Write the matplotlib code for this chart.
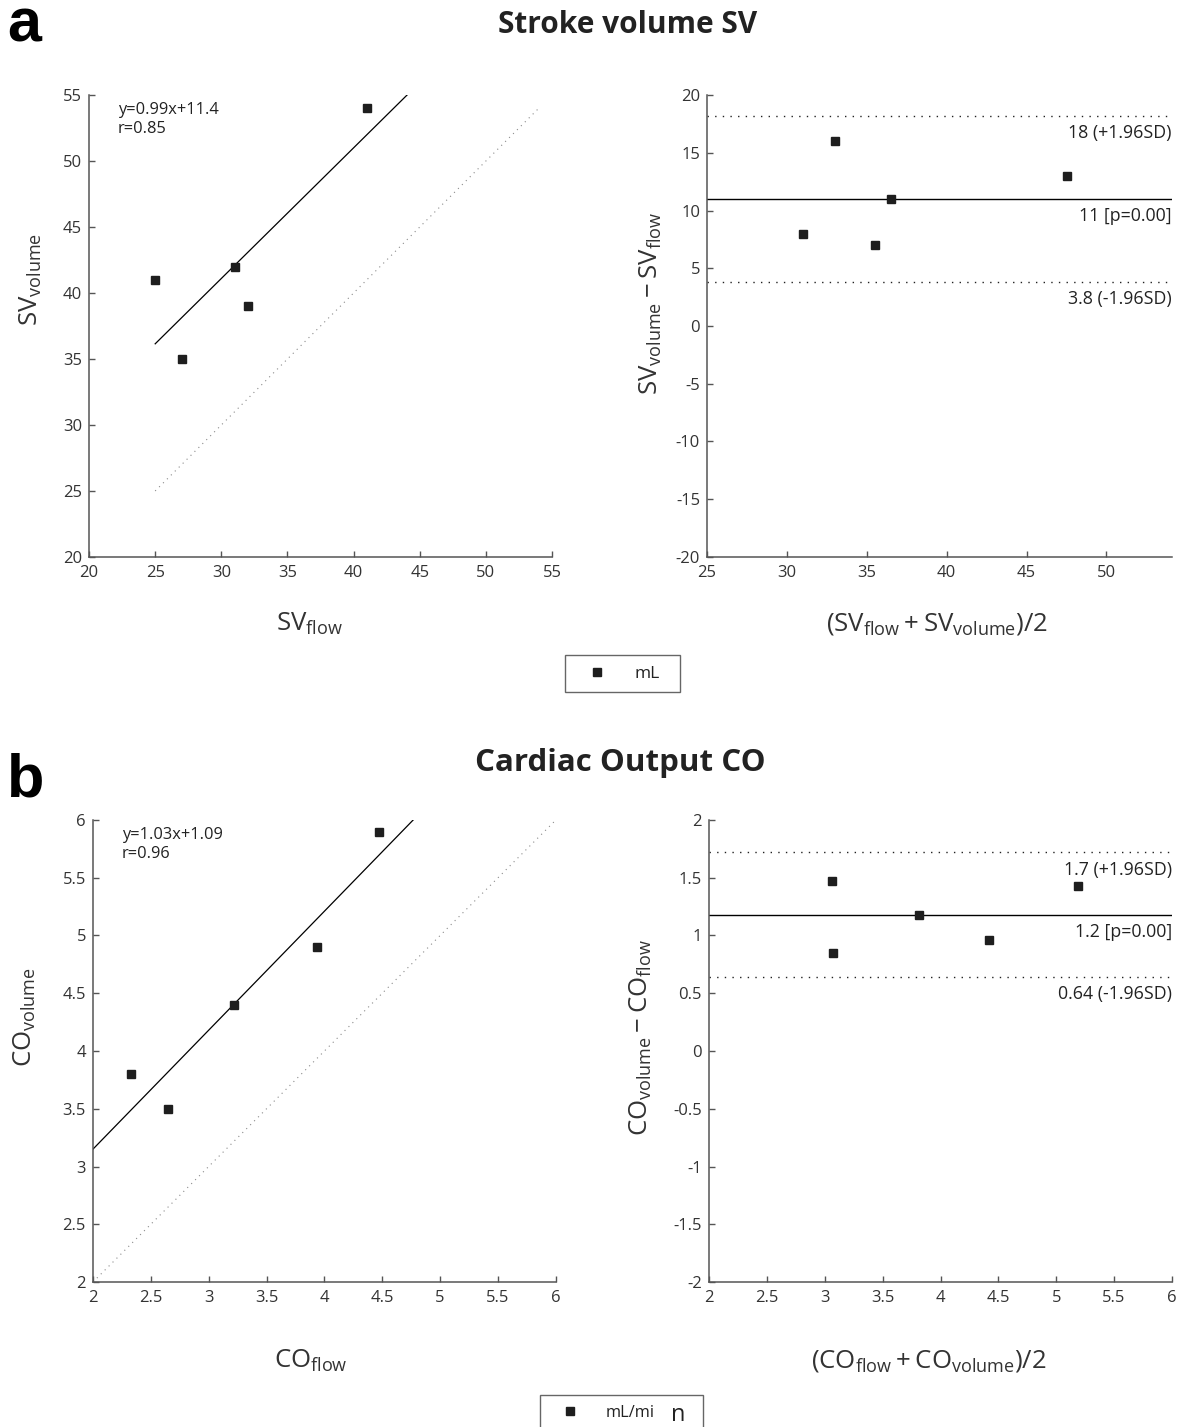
import matplotlib
matplotlib.use("Agg")
import matplotlib.pyplot as plt
from matplotlib.lines import Line2D
from matplotlib.ticker import FuncFormatter, MultipleLocator

plt.rcParams["font.family"] = ["Open Sans", "DejaVu Sans"]
plt.rcParams["mathtext.fontset"] = "custom"
plt.rcParams["mathtext.rm"] = "Open Sans"
plt.rcParams["mathtext.it"] = "Open Sans:italic"
plt.rcParams["mathtext.bf"] = "Open Sans:bold"
plt.rcParams["axes.unicode_minus"] = False

# --- data ---
# a: stroke volume (mL)
sv_flow = [25, 27, 31, 32, 41]
sv_volume = [41, 35, 42, 39, 54]
sv_mean = [33, 31, 36.5, 35.5, 47.5]
sv_diff = [16, 8, 11, 7, 13]
sv_fit = (0.99, 11.4)          # slope, intercept
sv_r = 0.85
sv_bias, sv_upper, sv_lower = 11, 18.2, 3.8
sv_labels = ["18 (+1.96SD)", "11 [p=0.00]", "3.8 (-1.96SD)"]

# b: cardiac output (mL/min)
co_flow = [2.33, 2.65, 3.22, 3.94, 4.47]
co_volume = [3.8, 3.5, 4.4, 4.9, 5.9]
co_mean = [3.065, 3.075, 3.81, 4.42, 5.185]
co_diff = [1.47, 0.85, 1.18, 0.96, 1.43]
co_fit = (1.03, 1.09)
co_r = 0.96
co_bias, co_upper, co_lower = 1.18, 1.72, 0.64
co_labels = ["1.7 (+1.96SD)", "1.2 [p=0.00]", "0.64 (-1.96SD)"]

SPINE = "#555555"
TXT = "#333333"
MK = "#1e1e1e"
TICK_FS = 12


def style_axes(ax):
    for s in ["top", "right"]:
        ax.spines[s].set_visible(False)
    for s in ["left", "bottom"]:
        ax.spines[s].set_color(SPINE)
        ax.spines[s].set_linewidth(1.1)
    ax.tick_params(direction="in", length=4, width=1.0, color=SPINE,
                   labelcolor=TXT, labelsize=TICK_FS)
    ax.tick_params(axis="x", pad=6)
    ax.tick_params(axis="y", pad=5)
    fmt = FuncFormatter(lambda v, p: f"{v:g}")
    ax.xaxis.set_major_formatter(fmt)
    ax.yaxis.set_major_formatter(fmt)


def scatter_panel(ax, x, y, fit, r, lim, step, line_x):
    ax.plot(line_x, line_x, ls=(0, (1, 4)), lw=0.8, color="#8a8a8a")
    xs = [line_x[0], lim[1]]
    ax.plot(xs, [fit[0] * v + fit[1] for v in xs], color="black", lw=0.9)
    ax.plot(x, y, ls="none", marker="s", ms=5.6, color=MK)
    ax.set_xlim(*lim)
    ax.set_ylim(*lim)
    ax.xaxis.set_major_locator(MultipleLocator(step))
    ax.yaxis.set_major_locator(MultipleLocator(step))
    ax.text(0.062, 0.985, f"y={fit[0]:g}x+{fit[1]:g}\nr={r:g}",
            transform=ax.transAxes, ha="left", va="top", fontsize=11.8,
            color="#222222", linespacing=1.25)
    style_axes(ax)


def ba_panel(ax, m, d, bias, up, lo, labels, xlim, ylim, step, ystep):
    for v in [up, lo]:
        ax.axhline(v, ls=(0, (1, 4.5)), lw=1.0, color="#222222")
    ax.axhline(bias, color="black", lw=1.0)
    ax.plot(m, d, ls="none", marker="s", ms=5.6, color=MK)
    for v, lab in zip([up, bias, lo], labels):
        ax.annotate(lab, xy=(1, v), xycoords=("axes fraction", "data"),
                    xytext=(0, -6), textcoords="offset points",
                    ha="right", va="top", fontsize=12.8, color="#222222")
    ax.set_xlim(*xlim)
    ax.set_ylim(*ylim)
    ax.xaxis.set_major_locator(MultipleLocator(step))
    ax.yaxis.set_major_locator(MultipleLocator(ystep))
    style_axes(ax)


fig = plt.figure(figsize=(11.78, 14.27), dpi=100)

ax1 = fig.add_axes([0.0756, 0.6097, 0.393, 0.3237])
ax2 = fig.add_axes([0.6002, 0.6097, 0.3947, 0.3237])
ax3 = fig.add_axes([0.0789, 0.1016, 0.393, 0.3238])
ax4 = fig.add_axes([0.6019, 0.1016, 0.393, 0.3238])

scatter_panel(ax1, sv_flow, sv_volume, sv_fit, sv_r, (20, 55), 5, [25, 54])
ba_panel(ax2, sv_mean, sv_diff, sv_bias, sv_upper, sv_lower, sv_labels,
         (25, 54.1), (-20, 20), 5, 5)
scatter_panel(ax3, co_flow, co_volume, co_fit, co_r, (2, 6), 0.5, [2, 6])
ba_panel(ax4, co_mean, co_diff, co_bias, co_upper, co_lower, co_labels,
         (2, 6), (-2, 2), 0.5, 0.5)

LBL = 18.5
ax1.set_ylabel(r"$\mathrm{SV}_{\mathrm{volume}}$", fontsize=LBL, color=TXT)
ax1.yaxis.set_label_coords(-0.097, 0.60)
ax1.set_xlabel(r"$\mathrm{SV}_{\mathrm{flow}}$", fontsize=LBL, color=TXT, va="top")
ax1.xaxis.set_label_coords(0.477, -0.117)

ax2.set_ylabel(r"$\mathrm{SV}_{\mathrm{volume}}-\mathrm{SV}_{\mathrm{flow}}$",
               fontsize=LBL, color=TXT)
ax2.yaxis.set_label_coords(-0.092, 0.55)
ax2.set_xlabel(r"$(\mathrm{SV}_{\mathrm{flow}}+\mathrm{SV}_{\mathrm{volume}})/2$",
               fontsize=LBL, color=TXT, va="top")
ax2.xaxis.set_label_coords(0.495, -0.117)

ax3.set_ylabel(r"$\mathrm{CO}_{\mathrm{volume}}$", fontsize=LBL, color=TXT)
ax3.yaxis.set_label_coords(-0.119, 0.574)
ax3.set_xlabel(r"$\mathrm{CO}_{\mathrm{flow}}$", fontsize=LBL, color=TXT, va="top")
ax3.xaxis.set_label_coords(0.471, -0.143)

ax4.set_ylabel(r"$\mathrm{CO}_{\mathrm{volume}}-\mathrm{CO}_{\mathrm{flow}}$",
               fontsize=LBL, color=TXT)
ax4.yaxis.set_label_coords(-0.119, 0.53)
ax4.set_xlabel(r"$(\mathrm{CO}_{\mathrm{flow}}+\mathrm{CO}_{\mathrm{volume}})/2$",
               fontsize=LBL, color=TXT, va="top")
ax4.xaxis.set_label_coords(0.475, -0.143)

# panel letters and titles
fig.text(0.006, 0.9706, "a", fontsize=44, fontweight="bold",
         family="Liberation Sans", ha="left", va="baseline")
fig.text(0.006, 0.4415, "b", fontsize=44, fontweight="bold",
         family="Liberation Sans", ha="left", va="baseline")
fig.text(0.533, 0.9825, "Stroke volume SV", fontsize=21.5, fontweight="bold",
         ha="center", va="center", color="#222222")
fig.text(0.527, 0.4655, "Cardiac Output CO", fontsize=22.5, fontweight="bold",
         ha="center", va="center", color="#222222")

# legends: box spans given in figure fraction, expanded horizontally
def add_legend(label, x0, width, yc, fs):
    h = Line2D([], [], ls="none", marker="s", ms=5.6, color=MK)
    leg = fig.legend([h], [label], loc="center", mode="expand",
                     bbox_to_anchor=(x0, yc, width, 0),
                     bbox_transform=fig.transFigure, fontsize=fs,
                     frameon=True, fancybox=False, framealpha=1,
                     edgecolor="#666666", handlelength=2.5,
                     handletextpad=0.9, borderpad=0.6, borderaxespad=0)
    leg.get_frame().set_linewidth(1.0)
    for t in leg.get_texts():
        t.set_color("#222222")
    return leg

add_legend("mL", 0.4796, 0.0976, 0.5277, 12.5)
add_legend("mL/mi", 0.4584, 0.1384, 0.0098, 11.8)
fig.text(0.5756, 0.0086, "n", fontsize=17, ha="center", va="center",
         color="#222222", zorder=10)

fig.savefig("out.png", dpi=100)
